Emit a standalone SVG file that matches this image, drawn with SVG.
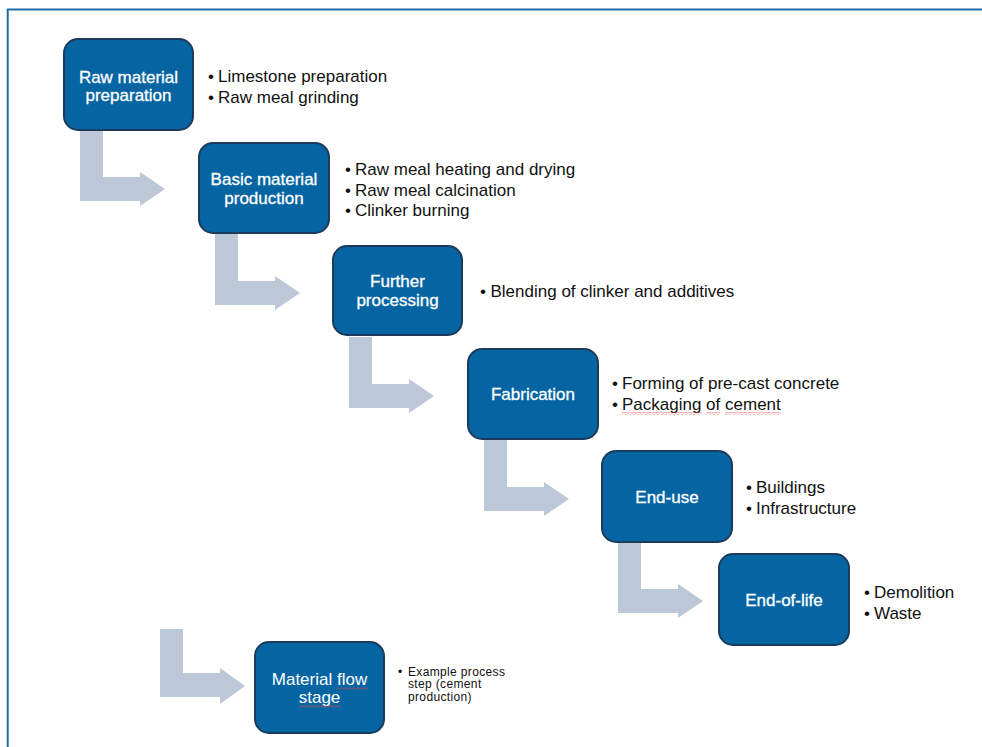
<svg xmlns="http://www.w3.org/2000/svg" width="982" height="747" viewBox="0 0 982 747">
<style>
.box{fill:#0565A3;stroke:#1C3B5A;stroke-width:2}
.arr{fill:#BCC7D7}
.lbl{font-family:"Liberation Sans",Arial,sans-serif;font-size:17px;fill:#fff;stroke:#fff;stroke-width:0.3;text-anchor:middle}
.lbl2{font-family:"Liberation Sans",Arial,sans-serif;font-size:17px;fill:#fff;text-anchor:middle}
.b{font-family:"Liberation Sans",Arial,sans-serif;font-size:17px;fill:#111}
.bs{font-family:"Liberation Sans",Arial,sans-serif;font-size:12px;letter-spacing:0.35px;fill:#111}
.frame{fill:none;stroke:#1F6EAA;stroke-width:2}
</style>
<defs>
<path id="arrow" d="M17,92 H40 V139 H77 V134 L102,151 L77,168 V163 H17 Z"/>
<pattern id="sq" width="4" height="3" patternUnits="userSpaceOnUse">
<path d="M0,2.5 L2,0.5 L4,2.5" fill="none" stroke="#E04848" stroke-width="0.8"/>
</pattern>
</defs>
<rect width="982" height="747" fill="#fff"/>
<path class="frame" d="M7.7,747 V9.5 H982"/>
<g id="connectors">
<use href="#arrow" class="arr" transform="translate(63,38)"/>
<use href="#arrow" class="arr" transform="translate(198,142)"/>
<use href="#arrow" class="arr" transform="translate(332,245)"/>
<use href="#arrow" class="arr" transform="translate(467,348)"/>
<use href="#arrow" class="arr" transform="translate(601,450)"/>
<path class="arr" d="M160,629 H183 V673 H220 V668 L245,686 L220,704 V697 H160 Z"/>
</g>
<g id="node-raw-material">
<rect class="box" x="64" y="39" width="129" height="91" rx="14"/>
<text class="lbl" x="128.5" y="82.5">Raw material</text>
<text class="lbl" x="128.5" y="101">preparation</text>
<text class="b" x="208" y="82">•</text><text class="b" x="218" y="82">Limestone preparation</text>
<text class="b" x="208" y="102.5">•</text><text class="b" x="218" y="102.5">Raw meal grinding</text>
</g>
<g id="node-basic-material">
<rect class="box" x="199" y="143" width="130" height="90" rx="14"/>
<text class="lbl" x="264" y="185">Basic material</text>
<text class="lbl" x="264" y="203.5">production</text>
<text class="b" x="345" y="175">•</text><text class="b" x="355" y="175">Raw meal heating and drying</text>
<text class="b" x="345" y="195.5">•</text><text class="b" x="355" y="195.5">Raw meal calcination</text>
<text class="b" x="345" y="216">•</text><text class="b" x="355" y="216">Clinker burning</text>
</g>
<g id="node-further-processing">
<rect class="box" x="333" y="246" width="129" height="89" rx="14"/>
<text class="lbl" x="397.5" y="287">Further</text>
<text class="lbl" x="397.5" y="305.5">processing</text>
<text class="b" x="480" y="297">•</text><text class="b" x="490.5" y="297">Blending of clinker and additives</text>
</g>
<g id="node-fabrication">
<rect class="box" x="468" y="349" width="130" height="90" rx="14"/>
<text class="lbl" x="533" y="399.5">Fabrication</text>
<text class="b" x="612" y="389">•</text><text class="b" x="622" y="389">Forming of pre-cast concrete</text>
<text class="b" x="612" y="409.5">•</text><text class="b" x="622" y="409.5">Packaging of cement</text>
<rect x="622" y="412" width="79.5" height="3" fill="url(#sq)"/>
<rect x="706" y="412" width="14" height="3" fill="url(#sq)"/>
<rect x="725" y="412" width="56" height="3" fill="url(#sq)"/>
</g>
<g id="node-end-use">
<rect class="box" x="602" y="451" width="130" height="91" rx="14"/>
<text class="lbl" x="667" y="502.5">End-use</text>
<text class="b" x="746" y="493">•</text><text class="b" x="756" y="493">Buildings</text>
<text class="b" x="746" y="513.5">•</text><text class="b" x="756" y="513.5">Infrastructure</text>
</g>
<g id="node-end-of-life">
<rect class="box" x="719" y="554" width="130" height="91" rx="14"/>
<text class="lbl" x="784" y="605.5">End-of-life</text>
<text class="b" x="864" y="598">•</text><text class="b" x="874" y="598">Demolition</text>
<text class="b" x="864" y="618.5">•</text><text class="b" x="874" y="618.5">Waste</text>
</g>
<g id="legend">
<rect class="box" x="255" y="642" width="129" height="91" rx="14"/>
<text class="lbl2" x="319.5" y="685">Material flow</text>
<text class="lbl2" x="319.5" y="703">stage</text>
<rect x="337" y="687" width="31" height="3" fill="url(#sq)"/>
<rect x="299" y="705" width="42" height="3" fill="url(#sq)"/>
<text class="bs" x="398" y="675.5">•</text>
<text class="bs" x="408" y="675.5">Example process</text>
<text class="bs" x="408" y="688">step (cement</text>
<text class="bs" x="408" y="700.5">production)</text>
</g>
</svg>
